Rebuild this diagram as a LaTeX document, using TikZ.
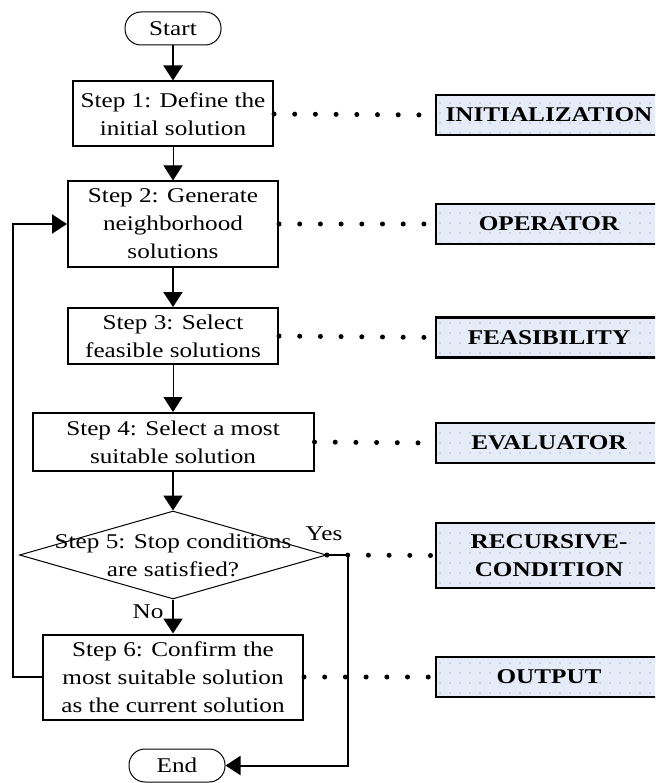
\documentclass[tikz,border=0pt]{standalone}
\usepackage{fontspec}
\setmainfont{Liberation Serif}[FakeStretch=1.2]
\usetikzlibrary{shapes.geometric,arrows.meta,patterns.meta}
\definecolor{tagfill}{HTML}{E6ECF7}
\definecolor{tagdots}{HTML}{A9BDE3}

\begin{document}
\begin{tikzpicture}[x=1pt, y=-1pt,
  font=\fontsize{21}{28}\selectfont,
  stepbox/.style={rectangle, draw, line width=2pt, inner sep=0pt, align=center},
  terminal/.style={rectangle, rounded corners=16pt, draw, line width=1pt, minimum width=96pt, minimum height=33pt, inner sep=0pt},
  tagbox/.style={rectangle, draw, line width=2.2pt, preaction={fill=tagfill}, pattern={Dots[distance=10pt,radius=0.8pt]}, pattern color=tagdots, minimum width=226pt, inner sep=0pt, align=center, font=\fontsize{21}{28}\selectfont\bfseries},
  flow/.style={-{Triangle[width=19pt,length=15pt]}, line width=2pt},
  thinflow/.style={flow, line width=1pt},
  dotline/.style={line width=5pt, line cap=round, dash pattern=on 0pt off 20.7pt}]

% page size of the reference
\useasboundingbox (0,0) rectangle (655,783);
\clip (0,0) rectangle (655,783);

% the steps
\node[terminal] (start) at (173,28.5) {Start};
\node[stepbox, minimum width=200pt, minimum height=65pt] (s1) at (173,114) {Step 1: Define the\\initial solution};
\node[stepbox, minimum width=210pt, minimum height=85pt] (s2) at (173,224) {Step 2: Generate\\neighborhood\\solutions};
\node[stepbox, minimum width=210pt, minimum height=56pt] (s3) at (173,336) {Step 3: Select\\feasible solutions};
\node[stepbox, minimum width=281pt, minimum height=58pt] (s4) at (173,442) {Step 4: Select a most\\suitable solution};
\node[diamond, draw, line width=1pt, minimum width=307pt, minimum height=88pt, inner sep=0pt] (s5) at (173,555) {};
\node[align=center, inner sep=0pt] (s5txt) at (s5.center) {Step 5: Stop conditions\\are satisfied?};
\node[stepbox, minimum width=260pt, minimum height=85pt] (s6) at (173,677) {Step 6: Confirm the\\most suitable solution\\as the current solution};
\node[terminal] (end) at (177,765.5) {End};

% and the labels on the right
\node[tagbox, minimum height=40pt] (init) at (549,115) {INITIALIZATION};
\node[tagbox, minimum height=40pt] (oper) at (549,224) {OPERATOR};
\node[tagbox, minimum height=40pt] (feas) at (549,337.5) {FEASIBILITY};
\node[tagbox, minimum height=40pt] (eval) at (549,443) {EVALUATOR};
\node[tagbox, minimum height=65pt] (recur) at (549,555.5) {RECURSIVE-\\CONDITION};
\node[tagbox, minimum height=40pt] (outp) at (549,677) {OUTPUT};

\node (yeslbl) at (324,534) {Yes};
\node (nolbl) at (148,612) {No};

% main flow
\draw[flow] (start) -- (s1);
\draw[thinflow] (s1) -- (s2);
\draw[flow] (s2) -- (s3);
\draw[thinflow] (s3) -- (s4);
\draw[flow] (s4) -- (s5);
\draw[flow] (s5) -- (s6);
\draw[flow] (s6.west) -- ++(-29,0) |- (s2.west);
\draw[flow] (s5.east) -- ++(21,0) |- (end.east);

% dotted links
\draw[dotline] (s1.east) -- (init.west);
\draw[dotline] (s2.east) -- (oper.west);
\draw[dotline] (s3.east) -- (feas.west);
\draw[dotline] (s4.east) -- (eval.west);
\draw[dotline] (s5.east) -- (recur.west);
\draw[dotline] (s6.east) -- (outp.west);
\end{tikzpicture}
\end{document}
